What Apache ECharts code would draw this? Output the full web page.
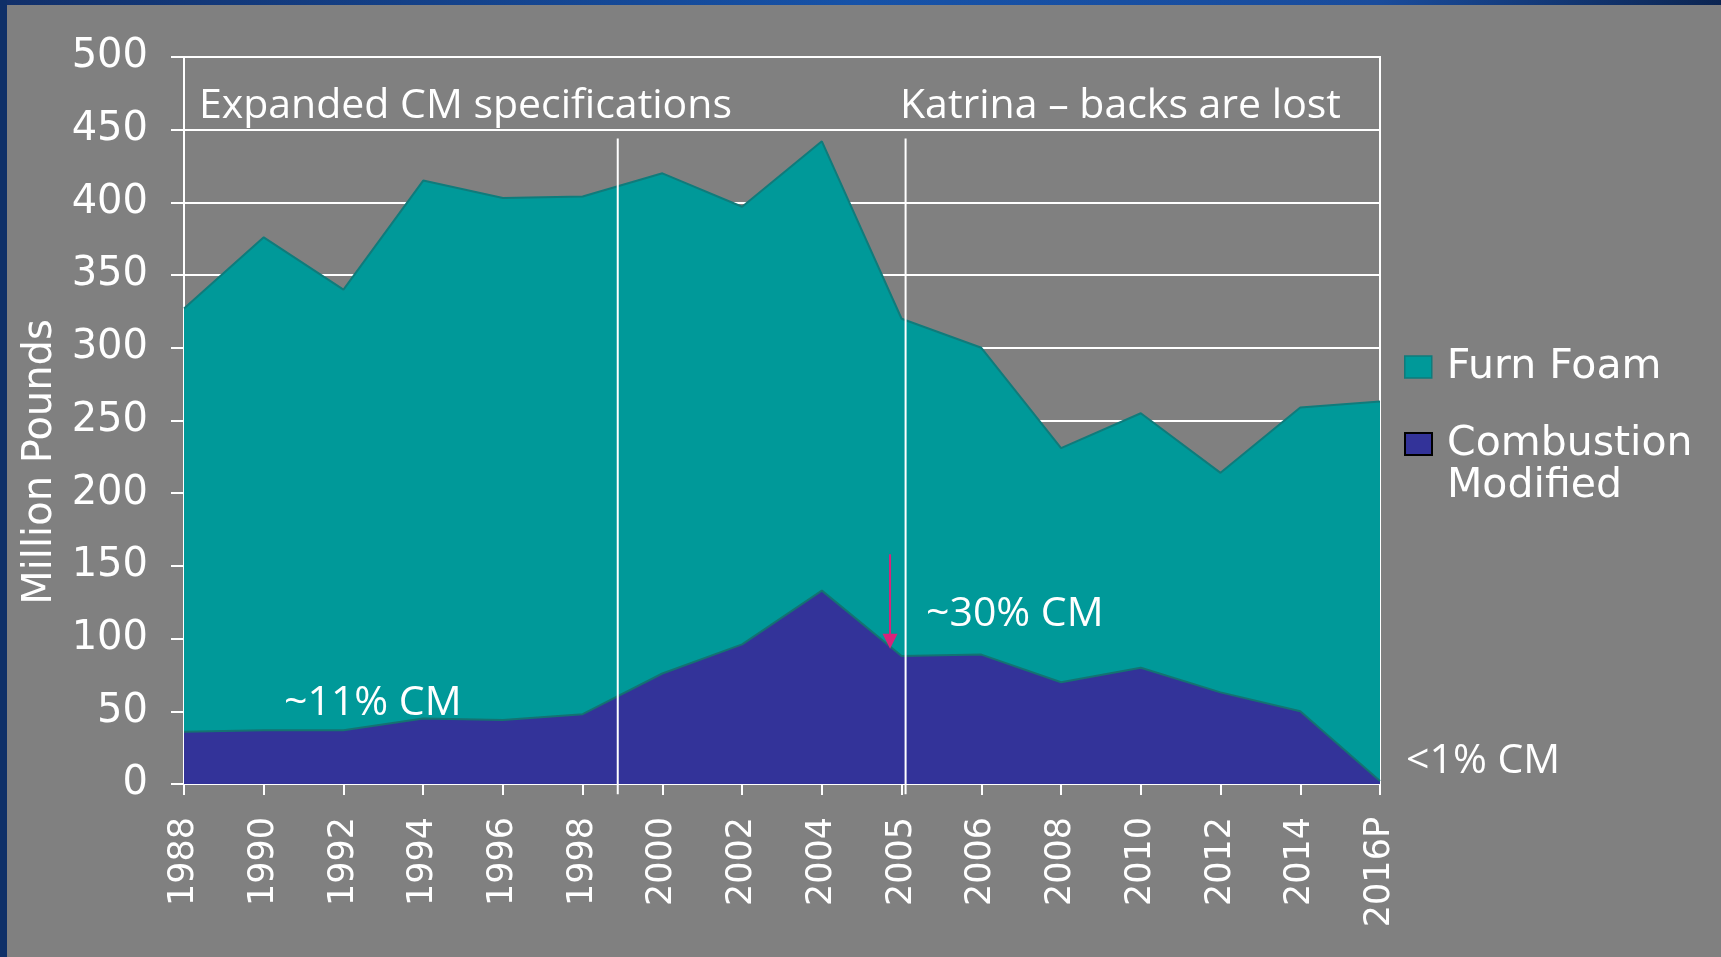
<!DOCTYPE html>
<html>
<head>
<meta charset="utf-8">
<title>Furn Foam vs Combustion Modified</title>
<script src="https://cdn.jsdelivr.net/npm/echarts@6/dist/echarts.min.js"></script>
<style>
  html, body { margin: 0; padding: 0; background: #808080; }
  #chart { width: 1721px; height: 957px; }
</style>
</head>
<body>
<div id="chart"></div>
<script>
  // x axis categories
  var years = ['1988', '1990', '1992', '1994', '1996', '1998', '2000', '2002', '2004',
    '2005', '2006', '2008', '2010', '2012', '2014', '2016P'];
  // million pounds
  var furnFoam = [327, 376, 340, 415, 403, 404, 420, 397, 442, 320, 300, 231, 255, 214, 259, 263];
  var combustionModified = [36, 37, 37, 45, 44, 48, 76, 96, 133, 88, 89, 70, 80, 63, 50, 2];
  // y axis ticks
  var yMin = 0, yMax = 500, yStep = 50;

  var white = '#ffffff';
  var axisFont = 'DejaVu Sans';
  var noteFont = 'Open Sans';

  var chart = echarts.init(document.getElementById('chart'));

  var option = {
    animation: false,
    backgroundColor: '#808080',
    grid: {
      left: 184,
      right: 341,
      top: 57,
      bottom: 173,
      show: true,
      borderColor: white,
      borderWidth: 2
    },
    legend: [{
      data: ['Furn Foam'],
      left: 1404,
      top: 346,
      padding: 0,
      selectedMode: false,
      icon: 'rect',
      itemWidth: 27,
      itemHeight: 22,
      itemStyle: { borderColor: '#0f7b7b', borderWidth: 1.5 },
      textStyle: { color: white, fontFamily: axisFont, fontSize: 41, lineHeight: 42, padding: [0, 0, 0, 10] }
    }, {
      data: ['Combustion Modified'],
      // empty first line keeps the swatch level with "Combustion"
      formatter: function (name) { return '\n' + name.replace(' ', '\n'); },
      left: 1404,
      top: 381,
      padding: 0,
      selectedMode: false,
      icon: 'rect',
      itemWidth: 27,
      itemHeight: 22,
      itemStyle: { borderColor: '#000000', borderWidth: 2 },
      textStyle: { color: white, fontFamily: axisFont, fontSize: 41, lineHeight: 42, padding: [0, 0, 0, 10] }
    }],
    xAxis: {
      type: 'category',
      data: years,
      boundaryGap: false,
      axisLine: { lineStyle: { color: white, width: 2 } },
      axisTick: { show: true, length: 11, interval: 0, lineStyle: { color: white, width: 2 } },
      axisLabel: {
        interval: 0,
        rotate: 90,
        margin: 33,
        color: white,
        fontFamily: axisFont,
        fontSize: 35
      },
      splitLine: { show: false }
    },
    yAxis: {
      type: 'value',
      min: yMin,
      max: yMax,
      interval: yStep,
      name: 'Million Pounds',
      nameLocation: 'middle',
      nameRotate: 90,
      nameGap: 118,
      nameTextStyle: { color: white, fontFamily: axisFont, fontSize: 40, padding: [0, 83, 0, 0] },
      axisLine: { show: true, lineStyle: { color: white, width: 2 } },
      axisTick: { show: true, length: 13, lineStyle: { color: white, width: 2 } },
      axisLabel: { margin: 36, color: white, fontFamily: axisFont, fontSize: 40 },
      splitLine: { show: true, lineStyle: { color: white, width: 2 } }
    },
    series: [{
      name: 'Furn Foam',
      type: 'line',
      data: furnFoam,
      symbol: 'none',
      z: 2,
      itemStyle: { color: '#009999' },
      lineStyle: { color: '#0f7b7b', width: 2 },
      areaStyle: { color: '#009999', opacity: 1 }
    }, {
      name: 'Combustion Modified',
      type: 'line',
      data: combustionModified,
      symbol: 'none',
      z: 3,
      itemStyle: { color: '#333399' },
      lineStyle: { color: '#147272', width: 2 },
      areaStyle: { color: '#333399', opacity: 1 }
    }]
  };

  chart.setOption(option);

  // pixel position of a fractional category index, through the chart's own axes
  function toPx(idx, val) {
    var i0 = Math.floor(idx);
    var a = chart.convertToPixel({ gridIndex: 0 }, [i0, val]);
    var b = chart.convertToPixel({ gridIndex: 0 }, [i0 + 1, val]);
    return [a[0] + (b[0] - a[0]) * (idx - i0), a[1]];
  }

  function vline(idx) {
    var p1 = toPx(idx, 444);
    var p2 = toPx(idx, -7);
    return {
      type: 'line', z: 20, silent: true,
      shape: { x1: p1[0], y1: p1[1], x2: p2[0], y2: p2[1] },
      style: { stroke: white, lineWidth: 2 }
    };
  }

  function note(text, x, y) {
    return {
      type: 'text', z: 20, silent: true, x: x, y: y,
      style: { text: text, fill: white, font: '41px "' + noteFont + '"', verticalAlign: 'middle' }
    };
  }

  var arrowTop = toPx(8.855, 158);
  var arrowTip = toPx(8.855, 93);
  var arrowColor = '#d9237a';

  chart.setOption({
    graphic: [
      // slide frame
      {
        type: 'rect', z: 30, silent: true,
        shape: { x: 0, y: 0, width: 1721, height: 5 },
        style: {
          fill: new echarts.graphic.LinearGradient(0, 0, 1, 0, [
            { offset: 0, color: '#12306a' },
            { offset: 0.5, color: '#1652a8' },
            { offset: 0.8, color: '#1a4c9c' },
            { offset: 1, color: '#0c2552' }
          ])
        }
      },
      {
        type: 'rect', z: 30, silent: true,
        shape: { x: 0, y: 0, width: 7, height: 957 },
        style: { fill: '#0f3068' }
      },
      vline(5.44),
      vline(9.05),
      {
        type: 'line', z: 21, silent: true,
        shape: { x1: arrowTop[0], y1: arrowTop[1], x2: arrowTip[0], y2: arrowTip[1] - 14 },
        style: { stroke: arrowColor, lineWidth: 2 }
      },
      {
        type: 'polygon', z: 21, silent: true,
        shape: { points: [[arrowTip[0] - 7.5, arrowTip[1] - 15], [arrowTip[0] + 7.5, arrowTip[1] - 15], [arrowTip[0], arrowTip[1]]] },
        style: { fill: arrowColor }
      },
      note('Expanded CM specifications', 199, 106),
      note('Katrina \u2013 backs are lost', 900, 106),
      note('~11% CM', 284, 703),
      note('~30% CM', 926, 614),
      note('<1% CM', 1406, 761)
    ]
  });
</script>
</body>
</html>
